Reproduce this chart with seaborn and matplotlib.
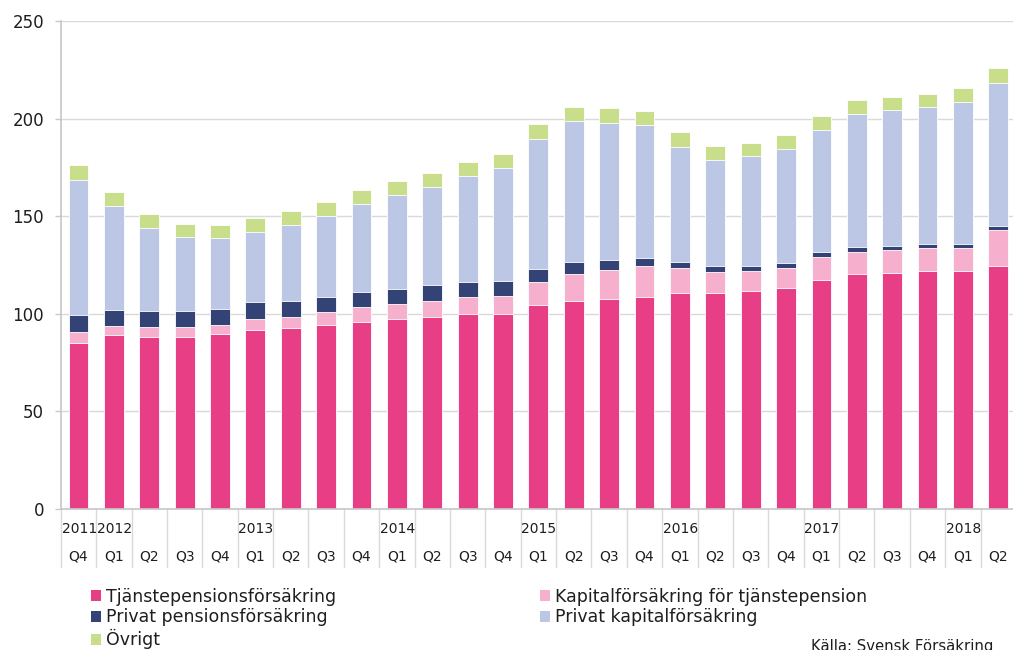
import pandas as pd
import matplotlib.pyplot as plt
import seaborn as sns
from matplotlib.patches import Patch

# Quarterly values (bn SEK)
periods = ["2011 Q4",
           "2012 Q1", "2012 Q2", "2012 Q3", "2012 Q4",
           "2013 Q1", "2013 Q2", "2013 Q3", "2013 Q4",
           "2014 Q1", "2014 Q2", "2014 Q3", "2014 Q4",
           "2015 Q1", "2015 Q2", "2015 Q3", "2015 Q4",
           "2016 Q1", "2016 Q2", "2016 Q3", "2016 Q4",
           "2017 Q1", "2017 Q2", "2017 Q3", "2017 Q4",
           "2018 Q1", "2018 Q2"]

tjanstepension = [85.0, 89.2, 88.1, 88.1, 89.5, 91.7, 92.7, 94.1, 95.7,
                  97.1, 98.6, 99.9, 99.9, 104.3, 106.5, 107.5, 108.7,
                  110.9, 110.4, 111.6, 113.3, 117.3, 120.2, 121.0, 121.9, 121.9, 124.5]
kapital_tjanste = [5.9, 4.6, 4.9, 4.9, 4.6, 5.7, 5.7, 6.6, 7.7,
                   7.8, 8.2, 8.8, 9.0, 12.0, 13.7, 14.9, 15.9,
                   12.7, 10.8, 10.5, 10.2, 11.7, 11.6, 11.6, 11.7, 11.7, 18.5]
privat_pension = [8.4, 8.4, 8.2, 8.2, 8.4, 8.6, 8.1, 8.0, 7.9,
                  7.9, 8.1, 7.6, 7.7, 6.8, 6.2, 5.2, 3.8,
                  2.9, 3.1, 2.5, 2.7, 2.7, 2.6, 2.2, 2.4, 2.0, 2.2]
privat_kapital = [69.4, 52.8, 43.0, 38.0, 36.4, 36.1, 39.1, 41.3, 44.7,
                  48.1, 50.1, 54.5, 57.9, 66.7, 72.3, 70.3, 68.1,
                  58.9, 54.4, 56.0, 58.0, 62.4, 67.8, 69.6, 69.9, 72.7, 73.2]
ovrigt = [7.3, 7.4, 7.0, 6.9, 6.7, 7.2, 7.0, 7.3, 7.6,
          7.3, 7.2, 7.2, 7.4, 7.4, 7.2, 7.3, 7.2,
          7.7, 7.5, 7.0, 7.2, 7.4, 7.2, 6.9, 6.9, 7.4, 7.4]

names = ["Tjänstepensionsförsäkring", "Kapitalförsäkring för tjänstepension",
         "Privat pensionsförsäkring", "Privat kapitalförsäkring", "Övrigt"]
colors = ["#E83E85", "#F6B0CD", "#344375", "#BBC7E4", "#C8DE8A"]

df = pd.DataFrame(dict(zip(names, [tjanstepension, kapital_tjanste, privat_pension,
                                   privat_kapital, ovrigt])), index=periods)
cum = df.cumsum(axis=1)

sns.set_theme(style="white")
plt.rcParams["font.family"] = ["DejaVu Sans"]
text_color = "#1e1e1e"
grid_color = "#D9D9D9"

fig = plt.figure(figsize=(10.13, 6.5), dpi=100)
ax = fig.add_axes([60.8 / 1013, 141 / 650, 955.2 / 1013, 488 / 650])

# stacked bars: draw cumulative totals from the top layer down
for name, color in reversed(list(zip(names, colors))):
    sns.barplot(x=periods, y=cum[name].values, color=color, saturation=1,
                width=0.56, edgecolor="white", linewidth=0.6, ax=ax, zorder=2)

ax.set_xlim(-0.5, len(periods) - 0.5)
ax.set_ylim(0, 250)
ax.set_yticks(range(0, 251, 50))
ax.yaxis.grid(True, color=grid_color, linewidth=1)
ax.set_axisbelow(True)
for side in ["top", "right"]:
    ax.spines[side].set_visible(False)
for side in ["left", "bottom"]:
    ax.spines[side].set_color("#C8C8C8")
ax.tick_params(axis="y", length=4, width=1, color="#C8C8C8", pad=8,
               labelsize=12, labelcolor=text_color, left=True)
ax.tick_params(axis="x", length=0, labelbottom=False)
ax.set_xlabel("")
ax.set_ylabel("")

# two-level category axis: separators, years and quarters
trans = ax.get_xaxis_transform()
for i in range(len(periods) + 1):
    ax.plot([i - 0.5, i - 0.5], [0, -0.119], transform=trans, color=grid_color,
            linewidth=1, clip_on=False)
prev_year = None
for i, p in enumerate(periods):
    year, q = p.split()
    if year != prev_year:
        ax.text(i - 0.48, -0.041, year, transform=trans, ha="left", va="center",
                fontsize=10, color=text_color)
        prev_year = year
    ax.text(i, -0.098, q, transform=trans, ha="center", va="center",
            fontsize=10, color=text_color)

# legend: column 1 = first three series, column 2 = the other two
order = [0, 2, 4, 1, 3]
handles = [Patch(facecolor=colors[k], edgecolor="none") for k in order]
labels = [names[k] for k in order]
fig.legend(handles, labels, ncol=2, loc="upper left", bbox_to_anchor=(91 / 1013, 0.096),
           frameon=False, fontsize=12.5, handlelength=0.58, handleheight=0.58,
           handletextpad=0.3, columnspacing=11.7, labelspacing=0.16,
           borderpad=0, borderaxespad=0, labelcolor=text_color)

fig.text(811 / 1013, -0.001, "Källa: Svensk Försäkring", fontsize=10.7,
         va="baseline", ha="left", color=text_color)

fig.savefig("out.png", dpi=100)
